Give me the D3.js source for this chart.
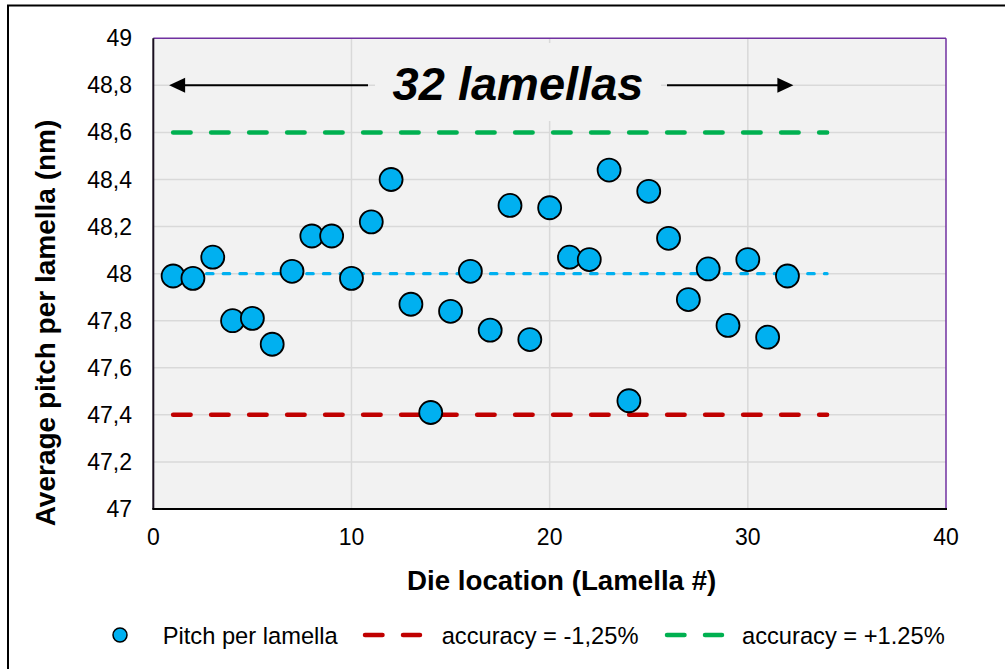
<!DOCTYPE html>
<html>
<head>
<meta charset="utf-8">
<script src="https://cdn.jsdelivr.net/npm/d3@7"></script>
<style>
  body { margin: 0; background: #fff; }
  text { font-family: "Liberation Sans", Arial, sans-serif; }
</style>
</head>
<body>
<svg id="chart" width="1005" height="669"></svg>
<script>
// lamella number and measured pitch (nm)
var lamella = [1,2,3,4,5,6,7,8,9,10,11,12,13,14,15,16,17,18,19,20,21,22,23,24,25,26,27,28,29,30,31,32];
var pitch = [47.99,47.98,48.07,47.80,47.81,47.70,48.01,48.16,48.16,47.98,48.22,48.40,
             47.87,47.41,47.84,48.01,47.76,48.29,47.72,48.28,48.07,48.06,48.44,47.46,
             48.35,48.15,47.89,48.02,47.78,48.06,47.73,47.99];

// reference lines
var targetPitch = 48;
var lowerLimit = 47.4;   // accuracy = -1,25%
var upperLimit = 48.6;   // accuracy = +1.25%
var limitRange = [1, 34];

var xTicks = [0, 10, 20, 30, 40];
var yTicks = [47, 47.2, 47.4, 47.6, 47.8, 48, 48.2, 48.4, 48.6, 48.8, 49];

var legendLabels = ["Pitch per lamella", "accuracy = -1,25%", "accuracy = +1.25%"];

var svg = d3.select("#chart");

var plotLeft = 153.3, plotRight = 946, plotTop = 38.3, plotBottom = 509;

var x = d3.scaleLinear().domain([0, 40]).range([plotLeft, plotRight]);
var y = d3.scaleLinear().domain([47, 49]).range([plotBottom, plotTop]);

var commaFmt = function(d) { return String(+d.toFixed(1)).replace(".", ","); };

// outer frame (only top and left edges visible)
svg.append("rect")
  .attr("x", 8).attr("y", 5.5)
  .attr("width", 1020).attr("height", 700)
  .attr("fill", "none")
  .attr("stroke", "#000")
  .attr("stroke-width", 2);

// plot background
svg.append("rect")
  .attr("x", plotLeft).attr("y", plotTop)
  .attr("width", plotRight - plotLeft).attr("height", plotBottom - plotTop)
  .attr("fill", "#F2F2F2");

// gridlines
svg.append("g").selectAll("line")
  .data(yTicks.slice(1, -1))
  .enter().append("line")
  .attr("x1", plotLeft).attr("x2", plotRight)
  .attr("y1", function(d) { return y(d); })
  .attr("y2", function(d) { return y(d); })
  .attr("stroke", "#D9D9D9")
  .attr("stroke-width", 1.5);

svg.append("g").selectAll("line")
  .data(xTicks.slice(1, -1))
  .enter().append("line")
  .attr("y1", plotTop).attr("y2", plotBottom)
  .attr("x1", function(d) { return x(d); })
  .attr("x2", function(d) { return x(d); })
  .attr("stroke", "#D9D9D9")
  .attr("stroke-width", 1.5);

// plot border: purple top/right, black axes left/bottom
svg.append("line")
  .attr("x1", plotLeft).attr("x2", plotRight)
  .attr("y1", plotTop).attr("y2", plotTop)
  .attr("stroke", "#7030A0").attr("stroke-width", 1.5);
svg.append("line")
  .attr("x1", plotRight).attr("x2", plotRight)
  .attr("y1", plotTop).attr("y2", plotBottom)
  .attr("stroke", "#7030A0").attr("stroke-width", 1.5);
svg.append("line")
  .attr("x1", plotLeft).attr("x2", plotLeft)
  .attr("y1", plotTop).attr("y2", plotBottom)
  .attr("stroke", "#1a1020").attr("stroke-width", 2);
svg.append("line")
  .attr("x1", plotLeft - 1).attr("x2", plotRight + 1)
  .attr("y1", plotBottom).attr("y2", plotBottom)
  .attr("stroke", "#000").attr("stroke-width", 2);

// tick labels
svg.append("g").selectAll("text")
  .data(yTicks)
  .enter().append("text")
  .attr("x", 132)
  .attr("y", function(d) { return y(d) + 8; })
  .attr("text-anchor", "end")
  .attr("font-size", 23)
  .attr("fill", "#000")
  .text(commaFmt);

svg.append("g").selectAll("text")
  .data(xTicks)
  .enter().append("text")
  .attr("x", function(d) { return x(d); })
  .attr("y", 545)
  .attr("text-anchor", "middle")
  .attr("font-size", 23)
  .attr("fill", "#000")
  .text(function(d) { return d; });

// axis titles
svg.append("text")
  .attr("x", 561.7).attr("y", 590)
  .attr("text-anchor", "middle")
  .attr("font-size", 27.7)
  .attr("font-weight", "bold")
  .text("Die location (Lamella #)");

svg.append("text")
  .attr("transform", "translate(55,323) rotate(-90)")
  .attr("text-anchor", "middle")
  .attr("font-size", 28)
  .attr("font-weight", "bold")
  .text("Average pitch per lamella (nm)");

// annotation: "32 lamellas" with arrows
var annY = y(48.8);
svg.append("rect")
  .attr("x", 375).attr("y", 43)
  .attr("width", 286).attr("height", 78)
  .attr("fill", "#F2F2F2");

svg.append("text")
  .attr("x", 518).attr("y", 100)
  .attr("text-anchor", "middle")
  .attr("font-size", 47)
  .attr("font-weight", "bold")
  .attr("font-style", "italic")
  .text("32 lamellas");

function arrow(from, to) {
  var dir = to > from ? 1 : -1;
  svg.append("line")
    .attr("x1", from).attr("x2", to - dir * 12)
    .attr("y1", annY).attr("y2", annY)
    .attr("stroke", "#000").attr("stroke-width", 2);
  svg.append("path")
    .attr("d", "M" + to + "," + annY + "L" + (to - dir * 16) + "," + (annY - 7.5) +
               "L" + (to - dir * 16) + "," + (annY + 7.5) + "Z")
    .attr("fill", "#000");
}
arrow(368, x(0.8));
arrow(667, x(32.3));

// reference lines
var refLine = d3.line()
  .x(function(d) { return x(d[0]); })
  .y(function(d) { return y(d[1]); });

function drawRef(val, color, width, dash) {
  svg.append("path")
    .attr("d", refLine(limitRange.map(function(v) { return [v, val]; })))
    .attr("fill", "none")
    .attr("stroke", color)
    .attr("stroke-width", width)
    .attr("stroke-linecap", "round")
    .attr("stroke-dasharray", dash);
}
drawRef(upperLimit, "#00B050", 4.5, "17.5,20.5");
drawRef(lowerLimit, "#C00000", 4.5, "17.5,20.5");
drawRef(targetPitch, "#00B0F0", 3.2, "6.5,10.2");

// data points
svg.append("g").selectAll("circle")
  .data(lamella)
  .enter().append("circle")
  .attr("cx", function(d) { return x(d); })
  .attr("cy", function(d, i) { return y(pitch[i]); })
  .attr("r", 11.5)
  .attr("fill", "#00B0F0")
  .attr("stroke", "#000")
  .attr("stroke-width", 1.8);

// legend
var legY = 635;
var leg = svg.append("g").attr("font-size", 23.7);

leg.append("circle")
  .attr("cx", 120).attr("cy", legY).attr("r", 7)
  .attr("fill", "#00B0F0").attr("stroke", "#000").attr("stroke-width", 1.5);
leg.append("text").attr("x", 162.7).attr("y", legY + 9).text(legendLabels[0]);

[[365, "#C00000", 441.7, legendLabels[1]], [667, "#00B050", 742, legendLabels[2]]]
  .forEach(function(item) {
    leg.append("line")
      .attr("x1", item[0]).attr("x2", item[0] + 55)
      .attr("y1", legY).attr("y2", legY)
      .attr("stroke", item[1])
      .attr("stroke-width", 4.5)
      .attr("stroke-linecap", "round")
      .attr("stroke-dasharray", "17.5,20.5");
    leg.append("text").attr("x", item[2]).attr("y", legY + 9).text(item[3]);
  });
</script>
</body>
</html>
